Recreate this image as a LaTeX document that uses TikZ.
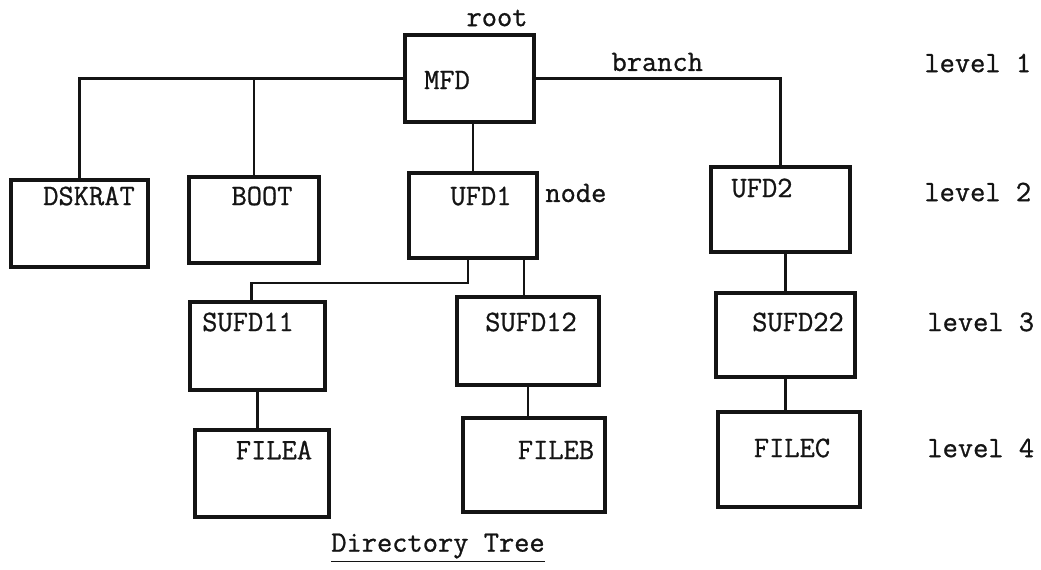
\documentclass[tikz,border=0pt]{standalone}
\usepackage{fontspec}
\setmonofont{Latin Modern Mono}[FakeBold=0.9]
\usepackage{tikz}
\usetikzlibrary{positioning, calc}
\definecolor{treeInk}{RGB}{20,20,20}
\tikzset{
  % one directory of the tree, a plain heavy rectangle
  dirbox/.style={
    draw=treeInk, rectangle, line width=1.8pt, inner sep=0pt, outer sep=0pt
  },
  % the name written inside a box
  boxtxt/.style={font=\fontsize{14.8}{16}\selectfont\ttfamily, text=treeInk, inner sep=0pt},
  % labels written beside the tree
  tag/.style={font=\fontsize{14.8}{16}\selectfont\ttfamily, text=treeInk, inner sep=0pt},
  % branches
  link/.style={draw=treeInk, line width=1.4pt},
}
\begin{document}
\begin{tikzpicture}[x=0.5pt, y=-0.5pt]
\useasboundingbox (0,0) rectangle (1041,569);

% ------------------------------- level 1 -----------------------------------
\node[dirbox, minimum width=64.5pt, minimum height=43.5pt] (mfd) at (469.5,78.5) {};
\node[boxtxt] (mfdT) at (447,80) {MFD};
\node[tag] (root) at (497,18) {root};

% ------------------------------- level 2 -----------------------------------
\node[dirbox, minimum width=68.5pt, minimum height=43.5pt] (dskrat) at (79.5,223.5) {};
\node[boxtxt] (dskratT) at (89,196) {DSKRAT};
\node[dirbox, minimum width=65pt, minimum height=43pt] (boot) at (254,220) {};
\node[boxtxt] (bootT) at (262,196) {BOOT};
\node[dirbox, minimum width=64pt, minimum height=42.5pt] (ufd1) at (473,215.5) {};
\node[boxtxt] (ufd1T) at (481,196) {UFD1};
\node[tag, anchor=west] (nodeT) at (545,193) {node};
\node[dirbox, minimum width=69.5pt, minimum height=42.5pt] (ufd2) at (780.5,209.5) {};
\node[boxtxt] (ufd2T) at (762,188) {UFD2};

% ------------------------------- level 3 -----------------------------------
\node[dirbox, minimum width=67.5pt, minimum height=44pt] (sufd11) at (257.5,346) {};
\node[boxtxt] (sufd11T) at (248,322) {SUFD11};
\node[dirbox, minimum width=71pt, minimum height=44pt] (sufd12) at (528,341) {};
\node[boxtxt] (sufd12T) at (531,322) {SUFD12};
\node[dirbox, minimum width=69.5pt, minimum height=42pt] (sufd22) at (785.5,335) {};
\node[boxtxt] (sufd22T) at (798,322) {SUFD22};

% ------------------------------- level 4 -----------------------------------
\node[dirbox, minimum width=67pt, minimum height=43.5pt] (filea) at (262,473.5) {};
\node[boxtxt] (fileaT) at (274,450) {FILEA};
\node[dirbox, minimum width=71pt, minimum height=47pt] (fileb) at (534,465) {};
\node[boxtxt] (filebT) at (556,450) {FILEB};
\node[dirbox, minimum width=71pt, minimum height=47.5pt] (filec) at (789,459.5) {};
\node[boxtxt] (filecT) at (792,448) {FILEC};

% ------------------------------- branches ----------------------------------
\draw[link] (mfd.west) -| (dskrat.north);
\draw[link] (boot.north) |- (mfd.west);
\draw[link] (mfd.east) -| (ufd2.north) node[tag, pos=0.25, above=3pt] (branch) {branch};
\draw[link] (mfd.south -| ufd1.north) -- (ufd1.north);
\draw[link] ([xshift=-2.5pt]ufd1.south) -- ++(0,25) -| ([xshift=-3pt]sufd11.north);
\draw[link] ([xshift=-2pt]sufd12.north) -- ([xshift=-2pt]sufd12.north |- ufd1.south);
\draw[link] (sufd22.north) -- (sufd22.north |- ufd2.south);
\draw[link] (sufd11.south) -- (sufd11.south |- filea.north);
\draw[link] (sufd12.south) -- (sufd12.south |- fileb.north);
\draw[link] (sufd22.south) -- (sufd22.south |- filec.north);

% ------------------------------- level tags --------------------------------
\node[tag, anchor=west] (lv1) at (924,63) {level 1};
\node[tag, anchor=west] (lv2) at (924,192) {level 2};
\node[tag, anchor=west] (lv3) at (927,322) {level 3};
\node[tag, anchor=west] (lv4) at (927,448) {level 4};

% ------------------------------- caption -----------------------------------
\node[tag] (caption) at (438,548) {\underline{Directory Tree}};

\end{tikzpicture}
\end{document}
